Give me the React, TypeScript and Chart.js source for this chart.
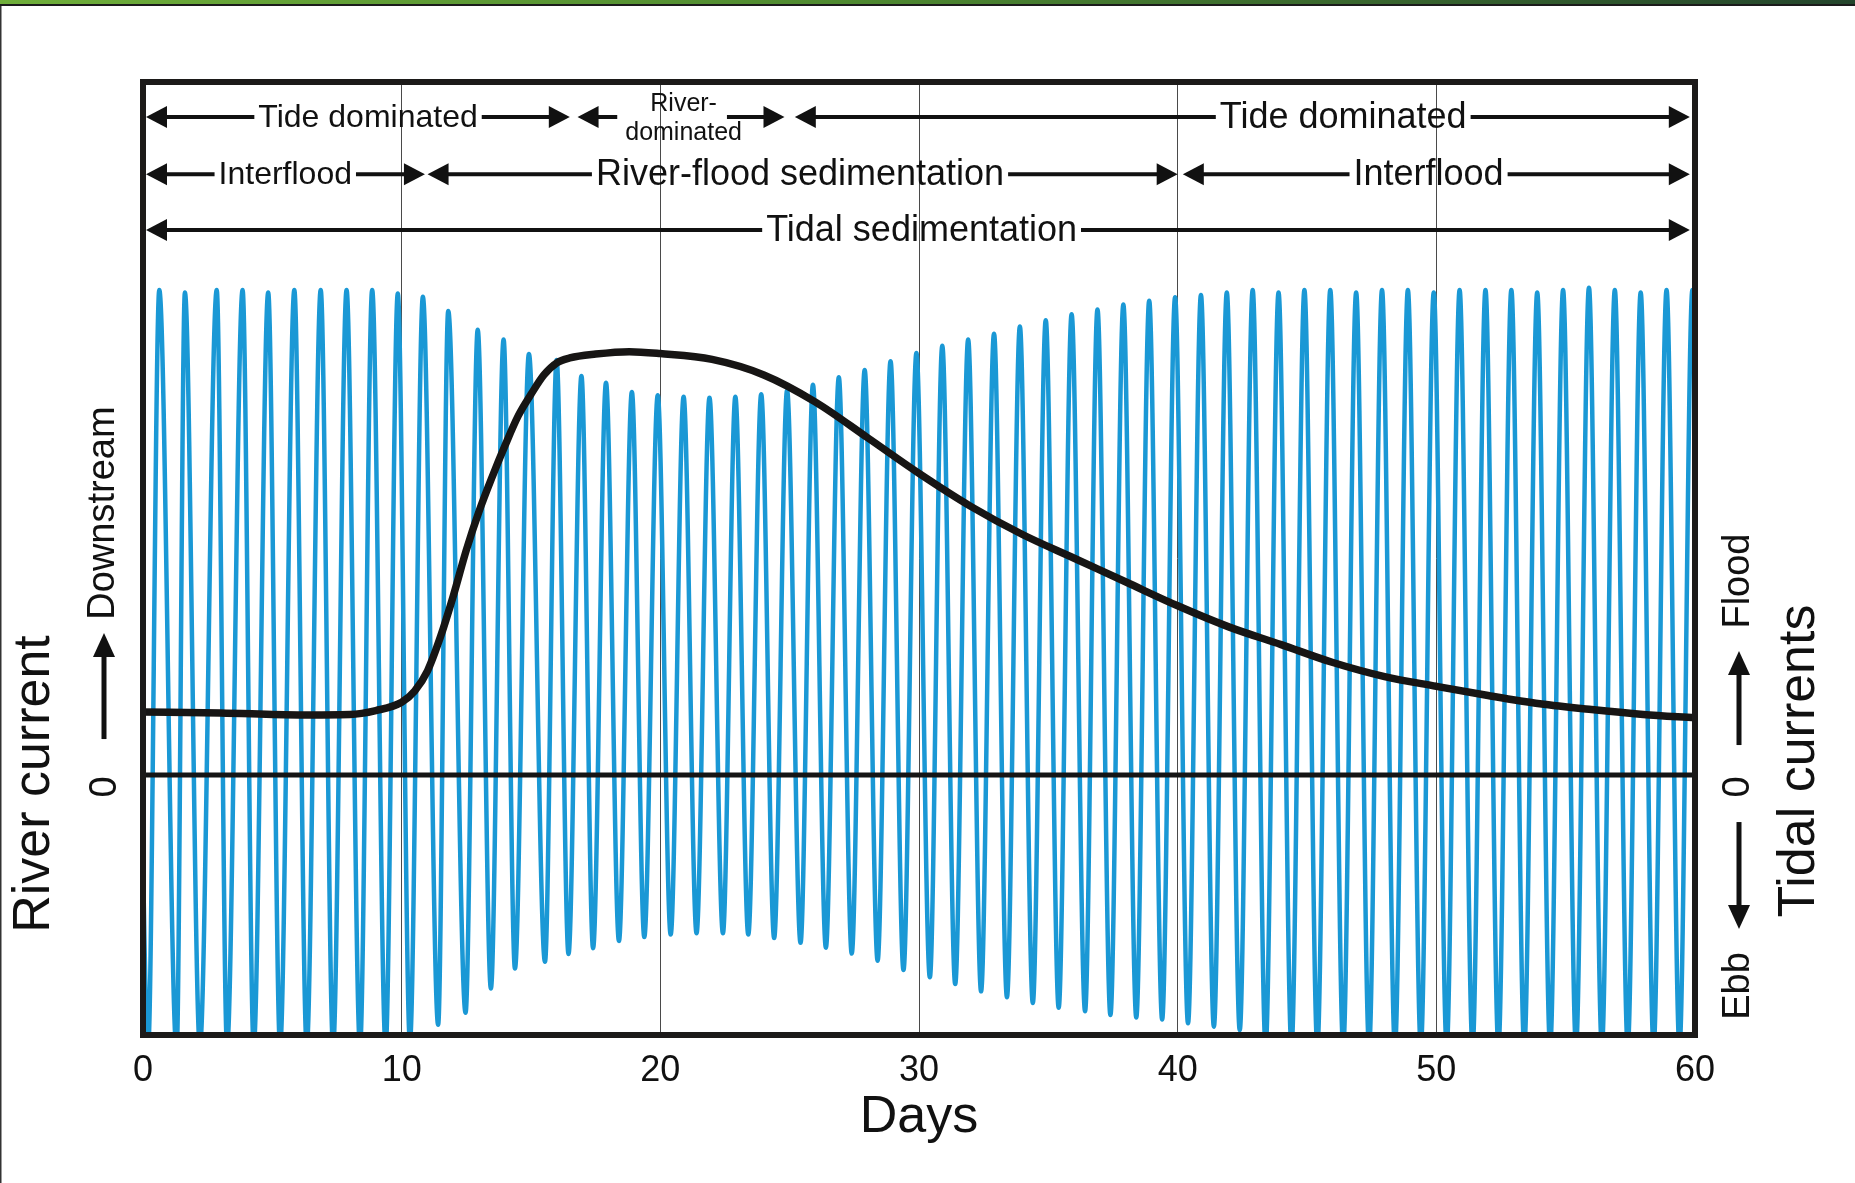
import { useEffect, useRef } from 'react';
import { Chart, registerables } from 'chart.js';

Chart.register(...registerables);

const FONT = '"Liberation Sans", Arial, Helvetica, sans-serif';

// ---------- data ----------
const xTickValues = [0, 10, 20, 30, 40, 50, 60];
const xAxisTitle = 'Days';

// River current (black curve)
const riverDays = [0, 3, 6, 8, 9, 10, 10.5, 11, 11.5, 12, 12.5, 13, 13.5, 14, 14.5, 15, 15.5, 16, 16.5, 17.5, 18.8, 20, 22, 24, 26, 28, 30, 32, 34, 36, 38, 40, 42, 44, 46, 48, 50, 52, 54, 56, 58, 60];
const riverValues = [13.0, 12.8, 12.4, 12.5, 13.3, 15.0, 17.3, 21.5, 28.5, 37.0, 46.4, 54.5, 61.5, 68.0, 74.0, 78.5, 82.5, 85.0, 86.0, 86.8, 87.3, 86.9, 85.7, 82.5, 76.9, 69.6, 62.2, 55.4, 49.6, 44.7, 39.8, 34.9, 30.5, 26.9, 23.2, 20.3, 18.3, 16.4, 14.7, 13.5, 12.5, 11.8];

// Tidal currents (blue curve): flood peaks and ebb troughs
const peakDays = [-0.3, 0.63, 1.62, 2.85, 3.85, 4.84, 5.85, 6.87, 7.87, 8.86, 9.85, 10.82, 11.8, 12.94, 13.94, 14.92, 15.99, 16.95, 17.9, 18.9, 19.9, 20.9, 21.9, 22.9, 23.9, 24.9, 25.9, 26.9, 27.9, 28.9, 29.9, 30.9, 31.9, 32.9, 33.9, 34.9, 35.9, 36.9, 37.9, 38.9, 39.9, 40.9, 41.9, 42.9, 43.9, 44.9, 45.9, 46.9, 47.9, 48.9, 49.9, 50.9, 51.9, 52.9, 53.9, 54.9, 55.9, 56.9, 57.9, 58.9, 59.9];
const peakValues = [100, 100, 99.5, 100, 100, 99.5, 100, 100, 100, 100, 99.3, 98.6, 95.7, 91.8, 89.8, 86.8, 85.6, 82.3, 80.9, 79.0, 78.3, 78.0, 77.8, 78.0, 78.5, 79.3, 80.5, 82.0, 83.5, 85.3, 87.0, 88.5, 89.8, 91.0, 92.5, 93.8, 95.0, 96.0, 97.0, 97.8, 98.5, 99.0, 99.5, 100, 99.5, 100, 100, 99.5, 100, 100, 99.5, 100, 100, 100, 99.5, 100, 100.5, 100, 99.5, 100, 100];
const troughDays = [0.2, 1.3, 2.2, 3.25, 4.28, 5.3, 6.33, 7.35, 8.39, 9.38, 10.32, 11.41, 12.47, 13.45, 14.38, 15.54, 16.45, 17.4, 18.4, 19.38, 20.4, 21.4, 22.42, 23.4, 24.4, 25.42, 26.4, 27.4, 28.4, 29.4, 30.42, 31.4, 32.4, 33.4, 34.4, 35.4, 36.42, 37.4, 38.4, 39.4, 40.4, 41.4, 42.4, 43.4, 44.4, 45.4, 46.4, 47.4, 48.4, 49.4, 50.4, 51.4, 52.4, 53.4, 54.4, 55.4, 56.4, 57.4, 58.4, 59.4, 60.4];
const troughValues = [-56, -57, -56, -56, -56, -56, -56, -56, -56, -56, -55, -51.5, -49.0, -44.0, -39.9, -38.5, -36.9, -35.7, -34.2, -33.4, -32.9, -32.6, -32.6, -32.9, -33.6, -34.6, -35.6, -36.8, -38.3, -40.2, -41.7, -43.1, -44.6, -45.8, -47.0, -48.0, -48.7, -49.5, -50.0, -50.4, -51.2, -51.9, -52.6, -56, -56, -56, -56, -56, -56, -56, -56, -56, -56, -56, -56, -56, -56, -56, -56, -56, -56];

// Zero reference line
const zeroDays = [0, 60];
const zeroValues = [0, 0];

// Phase annotations (spans in days, row level in y units)
const spanLabels = ['Tide dominated', 'River-\ndominated', 'Tide dominated', 'Interflood', 'River-flood sedimentation', 'Interflood', 'Tidal sedimentation'];
const spanStart = [0, 16.8, 25.2, 0, 11.0, 40.2, 0];
const spanEnd = [16.5, 24.8, 59.8, 10.9, 40.0, 59.8, 59.8];
const spanTextAt = [8.7, 20.9, 46.4, 5.5, 25.4, 49.7, 30.1];
const spanRow = [135.7, 135.7, 135.7, 123.9, 123.9, 123.9, 112.4];
const spanFontSize = [32, 25, 36, 32, 36, 36, 36];

const Y_MIN = -53.6;
const Y_MAX = 142.9;

function rotText(ctx: CanvasRenderingContext2D, text: string, x: number, y: number, size: number) {
  ctx.save();
  ctx.translate(x, y);
  ctx.rotate(-Math.PI / 2);
  ctx.font = `${size}px ${FONT}`;
  ctx.textAlign = 'center';
  ctx.textBaseline = 'middle';
  ctx.fillStyle = '#111';
  ctx.fillText(text, 0, 0);
  ctx.restore();
}

function vArrow(ctx: CanvasRenderingContext2D, x: number, yFrom: number, yTo: number) {
  const dir = Math.sign(yTo - yFrom);
  const len = 24, hw = 11;
  ctx.save();
  ctx.strokeStyle = '#111';
  ctx.fillStyle = '#111';
  ctx.lineWidth = 5;
  ctx.beginPath();
  ctx.moveTo(x, yFrom);
  ctx.lineTo(x, yTo - dir * (len - 2));
  ctx.stroke();
  ctx.beginPath();
  ctx.moveTo(x, yTo);
  ctx.lineTo(x - hw, yTo - dir * len);
  ctx.lineTo(x + hw, yTo - dir * len);
  ctx.closePath();
  ctx.fill();
  ctx.restore();
}

function hHead(ctx: CanvasRenderingContext2D, tipX: number, y: number, dir: number) {
  const len = 21, hw = 11;
  ctx.beginPath();
  ctx.moveTo(tipX, y);
  ctx.lineTo(tipX - dir * len, y - hw);
  ctx.lineTo(tipX - dir * len, y + hw);
  ctx.closePath();
  ctx.fill();
}

const decorPlugin = {
  id: 'decor',
  beforeDraw(chart: any) {
    const ctx: CanvasRenderingContext2D = chart.ctx;
    ctx.save();
    ctx.fillStyle = '#ffffff';
    ctx.fillRect(0, 0, chart.width, chart.height);
    const g = ctx.createLinearGradient(0, 0, chart.width, 0);
    g.addColorStop(0, '#6fae3a');
    g.addColorStop(0.45, '#4f8a30');
    g.addColorStop(1, '#24452c');
    ctx.fillStyle = g;
    ctx.fillRect(0, 0, chart.width, 4);
    ctx.fillStyle = '#1b1b1b';
    ctx.fillRect(0, 4, chart.width, 2);
    ctx.fillStyle = '#333';
    ctx.fillRect(0, 6, 1.5, chart.height - 6);
    ctx.restore();
  },
  afterDatasetsDraw(chart: any) {
    const ctx: CanvasRenderingContext2D = chart.ctx;
    const { left, right, top, bottom } = chart.chartArea;
    const xs = chart.scales.x;
    const ys = chart.scales.y;
    ctx.save();
    // frame
    ctx.strokeStyle = '#1c1a19';
    ctx.lineWidth = 6;
    ctx.strokeRect(left, top, right - left, bottom - top);

    // span annotations
    ctx.fillStyle = '#111';
    ctx.strokeStyle = '#111';
    for (let i = 0; i < spanLabels.length; i++) {
      const row = ys.getPixelForValue(spanRow[i]);
      const x0 = Math.max(xs.getPixelForValue(spanStart[i]), left + 3);
      const x1 = Math.min(xs.getPixelForValue(spanEnd[i]), right - 3);
      const tx = xs.getPixelForValue(spanTextAt[i]);
      const lines = spanLabels[i].split('\n');
      ctx.font = `${spanFontSize[i]}px ${FONT}`;
      ctx.textAlign = 'center';
      ctx.textBaseline = 'middle';
      let gapL: number, gapR: number;
      if (lines.length === 1) {
        const w = ctx.measureText(lines[0]).width;
        gapL = tx - w / 2 - 4;
        gapR = tx + w / 2 + 4;
        ctx.fillText(lines[0], tx, row + 1);
      } else {
        const w0 = ctx.measureText(lines[0]).width;
        const w1 = ctx.measureText(lines[1]).width;
        gapL = tx - w1 / 2 - 8;
        gapR = tx + w0 / 2 + 10;
        ctx.fillText(lines[0], tx, row - 13);
        ctx.fillText(lines[1], tx, row + 16);
      }
      ctx.lineWidth = 4;
      ctx.beginPath();
      ctx.moveTo(x0 + 18, row);
      ctx.lineTo(gapL, row);
      ctx.moveTo(gapR, row);
      ctx.lineTo(x1 - 18, row);
      ctx.stroke();
      hHead(ctx, x0, row, -1);
      hHead(ctx, x1, row, 1);
    }

    // side axis labels
    const y0 = ys.getPixelForValue(0);
    rotText(ctx, 'River current', 35, y0 + 9, 52);
    rotText(ctx, '0', 106, y0 + 12, 38);
    vArrow(ctx, 104, y0 - 36, y0 - 142);
    rotText(ctx, 'Downstream', 104, y0 - 262, 38);

    rotText(ctx, 'Tidal currents', 1800, y0 - 14, 52);
    rotText(ctx, 'Flood', 1739, y0 - 194, 38);
    vArrow(ctx, 1739, y0 - 30, y0 - 124);
    rotText(ctx, '0', 1739, y0 + 12, 38);
    vArrow(ctx, 1739, y0 + 47, y0 + 154);
    rotText(ctx, 'Ebb', 1739, y0 + 211, 38);
    ctx.restore();
  },
};

export default function App() {
  const ref = useRef<HTMLCanvasElement>(null);

  useEffect(() => {
    document.body.style.margin = '0';
    document.body.style.overflow = 'hidden';
    const canvas = ref.current;
    if (!canvas) return;

    const tidePoints = [
      ...peakDays.map((d, i) => ({ x: d, y: peakValues[i] })),
      ...troughDays.map((d, i) => ({ x: d, y: troughValues[i] })),
    ].sort((a, b) => a.x - b.x);
    const riverPoints = riverDays.map((d, i) => ({ x: d, y: riverValues[i] }));
    const zeroPoints = zeroDays.map((d, i) => ({ x: d, y: zeroValues[i] }));

    const chart = new Chart(canvas, {
      type: 'line',
      data: {
        datasets: [
          {
            label: 'River current',
            data: riverPoints,
            borderColor: '#171514',
            borderWidth: 7.5,
            pointRadius: 0,
            cubicInterpolationMode: 'monotone',
            order: 1,
          },
          {
            label: 'Zero',
            data: zeroPoints,
            borderColor: '#151515',
            borderWidth: 5,
            pointRadius: 0,
            order: 2,
          },
          {
            label: 'Tidal currents',
            data: tidePoints,
            borderColor: '#1a98d5',
            borderWidth: 4.5,
            pointRadius: 0,
            cubicInterpolationMode: 'monotone',
            order: 3,
          },
        ],
      },
      options: {
        animation: false,
        responsive: false,
        devicePixelRatio: 1,
        layout: { padding: { left: 143, right: 160, top: 82, bottom: 0 } },
        plugins: {
          legend: { display: false },
          tooltip: { enabled: false },
        },
        elements: { point: { radius: 0 } },
        scales: {
          x: {
            type: 'linear',
            min: 0,
            max: 60,
            afterBuildTicks: (scale: any) => {
              scale.ticks = xTickValues.map((v) => ({ value: v }));
            },
            afterFit: (scale: any) => {
              scale.height = 148;
            },
            ticks: {
              font: { family: FONT, size: 36 },
              color: '#111',
              padding: 14,
              maxRotation: 0,
              autoSkip: false,
            },
            grid: {
              color: '#4a4a4a',
              lineWidth: 1,
              drawTicks: false,
            },
            border: { display: false },
            title: {
              display: true,
              text: xAxisTitle,
              color: '#111',
              font: { family: FONT, size: 52 },
              padding: { top: 0, bottom: 34 },
            },
          },
          y: {
            type: 'linear',
            min: Y_MIN,
            max: Y_MAX,
            display: false,
          },
        },
      } as any,
      plugins: [decorPlugin],
    });

    return () => chart.destroy();
  }, []);

  return <canvas ref={ref} width={1855} height={1183} style={{ display: 'block' }} />;
}
